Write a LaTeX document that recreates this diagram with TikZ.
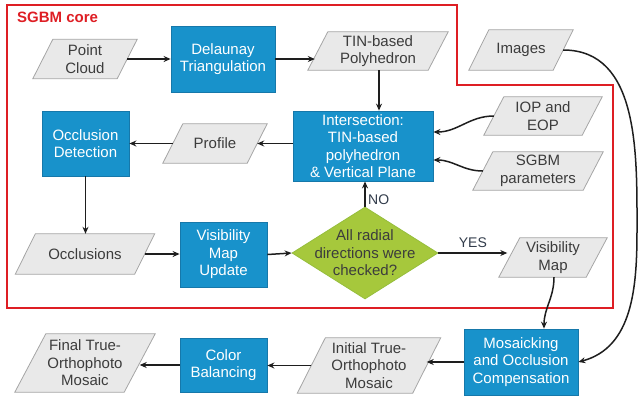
\documentclass[tikz,border=0pt]{standalone}
\usepackage{fontspec}
\setmainfont{Liberation Sans}
\usetikzlibrary{shapes.geometric,arrows.meta,backgrounds}
\definecolor{boxblue}{RGB}{24,146,203}
\definecolor{boxedge}{RGB}{22,120,170}
\definecolor{dgreen}{RGB}{166,200,60}
\definecolor{dedge}{RGB}{150,190,60}
\definecolor{pfill}{RGB}{233,233,233}
\definecolor{pedge}{RGB}{165,165,165}
\definecolor{ptext}{RGB}{60,60,60}
\definecolor{corered}{RGB}{222,30,36}
\definecolor{lin}{RGB}{30,30,30}
\definecolor{lbl}{RGB}{50,60,75}
\newcommand{\paraShape}[2]{\filldraw[paraline] ([xshift=-#2pt]#1.south west) -- ([xshift=-#2pt]#1.south east) -- ([xshift=#2pt]#1.north east) -- ([xshift=#2pt]#1.north west) -- cycle;}
\begin{document}
\begin{tikzpicture}[x=1pt,y=-1pt,
  txt/.style={font=\fontsize{15}{17.5}\selectfont, align=center},
  proc/.style={txt, draw=boxedge, fill=boxblue, text=white, inner sep=1pt, line width=0.8pt},
  io/.style={txt, rectangle, text=ptext, inner sep=1pt},
  paraline/.style={draw=pedge, fill=pfill, line width=0.8pt, line join=miter},
  dec/.style={diamond, draw=dedge, fill=dgreen, minimum width=146pt, minimum height=92pt, inner sep=0pt, line width=0.8pt},
  dtext/.style={txt, text=ptext},
  arr/.style={draw=lin, line width=1.5pt, -{Stealth[length=7pt,width=6pt]}},
  yn/.style={font=\fontsize{14}{16}\selectfont, text=lbl},
]
\useasboundingbox (0,0) rectangle (640,397);
\draw[corered, line width=2pt] (7,5) -- (457,5) -- (457,85) -- (613,85) -- (613,308) -- (7,308) -- cycle;
\node[anchor=west, text=corered, font=\bfseries\fontsize{15}{17}\selectfont, inner sep=0pt] (core) at (17,17) {SGBM core};

\node[io, minimum width=84pt, minimum height=39pt] (pc) at (85,59) {Point\\Cloud};
\node[proc, minimum width=104pt, minimum height=66pt] (del) at (223,59) {Delaunay\\Triangulation};
\node[io, minimum width=120pt, minimum height=38pt] (tin) at (378,51) {TIN-based\\Polyhedron};
\node[io, minimum width=84pt, minimum height=40pt] (img) at (521,50) {Images};
\node[proc, minimum width=140pt, minimum height=70pt] (int) at (363,146) {Intersection:\\TIN-based\\polyhedron\\\& Vertical Plane};
\node[io, minimum width=98pt, minimum height=38pt] (iop) at (543,116) {IOP and\\EOP};
\node[io, minimum width=110pt, minimum height=38pt] (sgbm) at (538,171) {SGBM\\parameters};
\node[proc, minimum width=87pt, minimum height=65pt] (occd) at (85.5,143.5) {Occlusion\\Detection};
\node[io, minimum width=84pt, minimum height=39pt] (prof) at (215,143.5) {Profile};
\node[io, minimum width=119pt, minimum height=40pt] (occ) at (85,254) {Occlusions};
\node[proc, minimum width=87pt, minimum height=65pt] (vmu) at (223.5,254.5) {Visibility\\Map\\Update};
\node[dec, label={[dtext]center:All radial\\directions were\\checked?}] (chk) at (365,253) {};
\node[io, minimum width=87pt, minimum height=39pt] (vm) at (553,257.5) {Visibility\\Map};
\node[proc, minimum width=114pt, minimum height=66pt] (mos) at (521,362) {Mosaicking\\and Occlusion\\Compensation};
\node[io, minimum width=115pt, minimum height=55pt] (ini) at (369,365.5) {Initial True-\\Orthophoto\\Mosaic};
\node[proc, minimum width=87pt, minimum height=54pt] (cb) at (223.5,365) {Color\\Balancing};
\node[io, minimum width=109pt, minimum height=58pt] (fin) at (85,363) {Final True-\\Orthophoto\\Mosaic};
\coordinate (rt) at (637,230);

\begin{scope}[on background layer]
\paraShape{pc}{10}
\paraShape{tin}{10}
\paraShape{img}{10}
\paraShape{iop}{10}
\paraShape{sgbm}{10}
\paraShape{prof}{10}
\paraShape{occ}{10}
\paraShape{vm}{10.5}
\paraShape{ini}{14}
\paraShape{fin}{15.5}
\end{scope}

\draw[arr] (pc.east) -- (del.west);
\draw[arr] (del.east) -- ([xshift=-3pt]tin.west |- del.east);
\draw[arr] ([xshift=1pt]tin.south) -- ([xshift=1pt]tin.south |- int.north);
\draw[arr] (iop.west) to[out=180,in=0] ([yshift=14pt]int.east);
\draw[arr] (sgbm.west) to[out=180,in=0] ([yshift=-14pt]int.east);
\draw[arr] (int.west |- prof.east) -- (prof.east);
\draw[arr] (prof.west) -- (prof.west -| occd.east);
\draw[arr] (occd.south) -- (occd.south |- occ.north);
\draw[arr] (occ.east) -- (vmu.west |- occ.east);
\draw[arr] (vmu.east) -- (chk.west);
\draw[arr] (chk.north) -- (chk.north |- int.south);
\node[yn, anchor=west, inner sep=0pt] (no) at (368,200) {NO};
\draw[arr] (chk.east) -- ([xshift=-2pt]chk.east -| vm.west) node[yn, midway, above=1pt] (yes) {YES};
\draw[arr] ([xshift=1pt]vm.south) to[out=-90,in=90] ([xshift=23pt]mos.north);
\draw[arr] (img.east) to[out=0,in=90] (rt) to[out=-90,in=15] (mos.east);
\draw[arr] (mos.west) -- (mos.west -| ini.east);
\draw[arr] (ini.west) -- (ini.west -| cb.east);
\draw[arr] (cb.west) -- (cb.west -| fin.east);
\end{tikzpicture}
\end{document}
